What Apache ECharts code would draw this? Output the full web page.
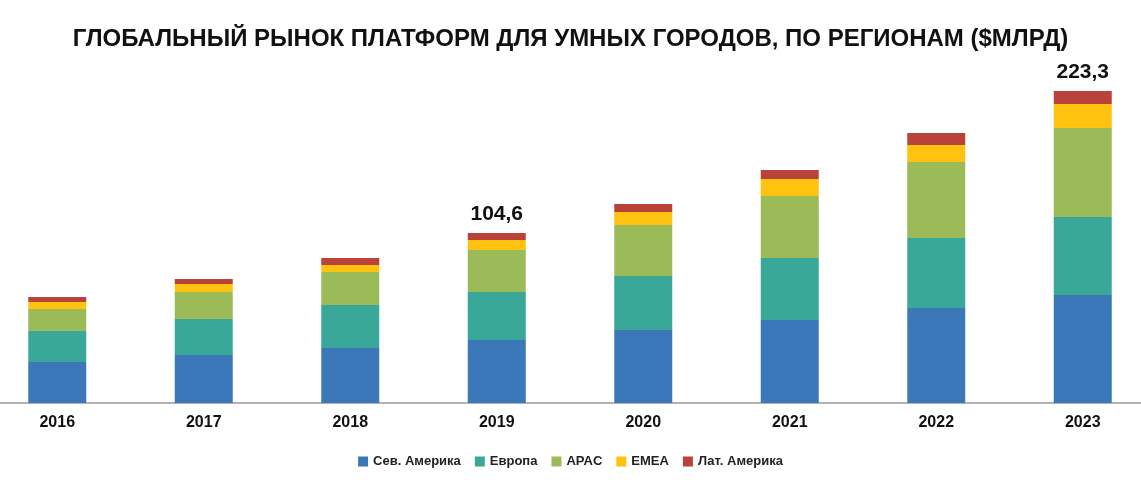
<!DOCTYPE html>
<html><head><meta charset="utf-8">
<script src="https://cdn.jsdelivr.net/npm/echarts@6/dist/echarts.min.js"></script>
<style>html,body{margin:0;background:#fff}#c{width:1141px;height:490px}</style>
</head><body><div id="c"></div>
<script>
var years = ['2016','2017','2018','2019','2020','2021','2022','2023'];
var northAmerica = [41, 48, 55, 63, 73, 83, 95, 108];
var europe = [31, 36, 43, 48, 54, 62, 70, 78];
var apac = [22, 27, 33, 42, 51, 62, 76, 89];
var emea = [7, 8, 7, 10, 13, 17, 17, 24];
var latam = [5, 5, 7, 7, 8, 9, 12, 13];
var totalLabels = ['', '', '', '104,6', '', '', '', '223,3'];

var names = ['Сев. Америка', 'Европа', 'APAC', 'EMEA', 'Лат. Америка'];
var colors = ['#3b78b9', '#3aa898', '#9bbb59', '#ffc20e', '#b9433a'];
var data = [northAmerica, europe, apac, emea, latam];

var series = data.map(function (d, i) {
  var s = {name: names[i], type: 'bar', stack: 'all', barWidth: 58, data: d,
    itemStyle: {color: colors[i]}};
  if (i === 4) {
    s.label = {show: true, position: 'top', distance: 8, color: '#111',
      fontSize: 21, fontWeight: 'bold', fontFamily: 'Liberation Sans',
      formatter: function (p) { return totalLabels[p.dataIndex]; }};
  }
  return s;
});

var chart = echarts.init(document.getElementById('c'));
chart.setOption({
  animation: false,
  title: {text: 'ГЛОБАЛЬНЫЙ РЫНОК ПЛАТФОРМ ДЛЯ УМНЫХ ГОРОДОВ, ПО РЕГИОНАМ ($МЛРД)',
    left: 'center', top: 22,
    textStyle: {fontSize: 24, fontWeight: 'bold', color: '#111', fontFamily: 'Liberation Sans'}},
  legend: {bottom: 17, itemWidth: 10, itemHeight: 10, itemGap: 14, icon: 'rect',
    textStyle: {fontSize: 13, fontWeight: 'bold', color: '#222', fontFamily: 'Liberation Sans'}},
  grid: {left: -16, right: -15, top: 83, bottom: 87, containLabel: false, outerBoundsMode: 'none'},
  xAxis: {type: 'category', data: years,
    axisLine: {lineStyle: {color: '#999', width: 1.5}}, axisTick: {show: false},
    axisLabel: {fontSize: 16, fontWeight: 'bold', color: '#111', margin: 12, fontFamily: 'Liberation Sans'}},
  yAxis: {type: 'value', min: 0, max: 320, show: false, splitLine: {show: false}},
  series: series
});
</script></body></html>
